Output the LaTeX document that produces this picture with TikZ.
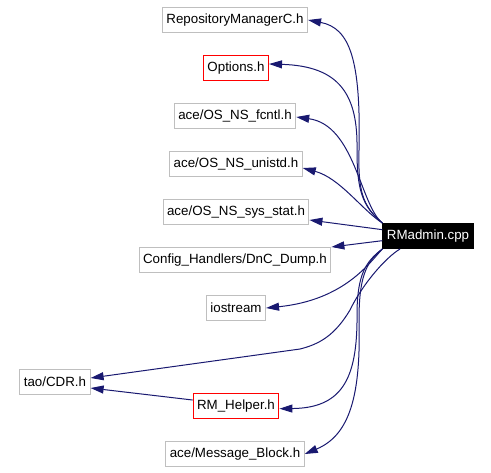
\documentclass[tikz,border=0pt]{standalone}
\usepackage{fontspec}
\setmainfont{Liberation Sans}
\usetikzlibrary{arrows.meta}
\definecolor{edgeblue}{HTML}{191970}
\definecolor{boxgray}{HTML}{BFBFBF}

\begin{document}
\begin{tikzpicture}[x=0.75pt,y=-0.75pt,
every node/.style={font=\fontsize{10}{12}\selectfont, inner xsep=3pt, inner ysep=0pt,
                   minimum height=18.75pt, line width=0.75pt},
header/.style={draw=boxgray},
local/.style={draw=red},
source/.style={draw=black, fill=black, text=white},
dep/.style={edgeblue, line width=0.75pt, -{Triangle[length=9.75pt,width=6pt]}}]
\useasboundingbox (0,0) rectangle (491,472);

 \node[source](RMadmin) at (428,236) {RMadmin.cpp};

 \node[header](Repo)     at (235,20)  {RepositoryManagerC.h};
 \node[local](Options)   at (236,68)  {Options.h};
 \node[header](Fcntl)    at (235,116) {ace/OS\_NS\_fcntl.h};
 \node[header](Unistd)   at (236,164) {ace/OS\_NS\_unistd.h};
 \node[header](SysStat)  at (236,212) {ace/OS\_NS\_sys\_stat.h};
 \node[header](DnCDump)  at (235,260) {Config\_Handlers/DnC\_Dump.h};
 \node[header](Iostream) at (236,308) {iostream};
 \node[header](CDR)      at (55,382)  {tao/CDR.h};
 \node[local](Helper)    at (236,406) {RM\_Helper.h};
 \node[header](MsgBlock) at (235,454) {ace/Message\_Block.h};

% upper includes
 \draw[dep] (RMadmin.north west) .. controls (362,206) and (358,190) .. (359,150)
            .. controls (361,60) and (350,28) .. (Repo.east);
 \draw[dep] (RMadmin.north west) .. controls (362,206) and (357,190) .. (357,150)
            .. controls (358,95) and (340,66) .. ([yshift=3pt]Options.east);
 \draw[dep] (RMadmin.north west) .. controls (360,205) and (355,125) .. ([yshift=-0.75pt]Fcntl.east);
 \draw[dep] (RMadmin.north west) .. controls (362,210) and (340,178) .. ([yshift=-3pt]Unistd.east);
 \draw[dep] ([yshift=-5pt]RMadmin.north west) -- ([yshift=-6pt]SysStat.east);
 \draw[dep] ([yshift=-3.5pt]RMadmin.west) -- (DnCDump.north east);

% lower includes
 \draw[dep] (RMadmin.south west) .. controls (370,262) and (345,300) .. (Iostream.east);
 \draw[dep] ([xshift=-21pt]RMadmin.south) .. controls (385,258) and (362,285) .. (350,310)
            .. controls (335,335) and (320,344) .. (300,349) -- ([yshift=3pt]CDR.east);
 \draw[dep] (RMadmin.south west) .. controls (365,262) and (358,275) .. (357,310)
            .. controls (358,375) and (345,408) .. ([yshift=-2pt]Helper.east);
 \draw[dep] (RMadmin.south west) .. controls (365,262) and (359,280) .. (359,320)
            .. controls (361,395) and (350,435) .. (MsgBlock.east);
 \draw[dep] ([yshift=4.5pt]Helper.west) -- ([yshift=-4.5pt]CDR.east);

\end{tikzpicture}
\end{document}
